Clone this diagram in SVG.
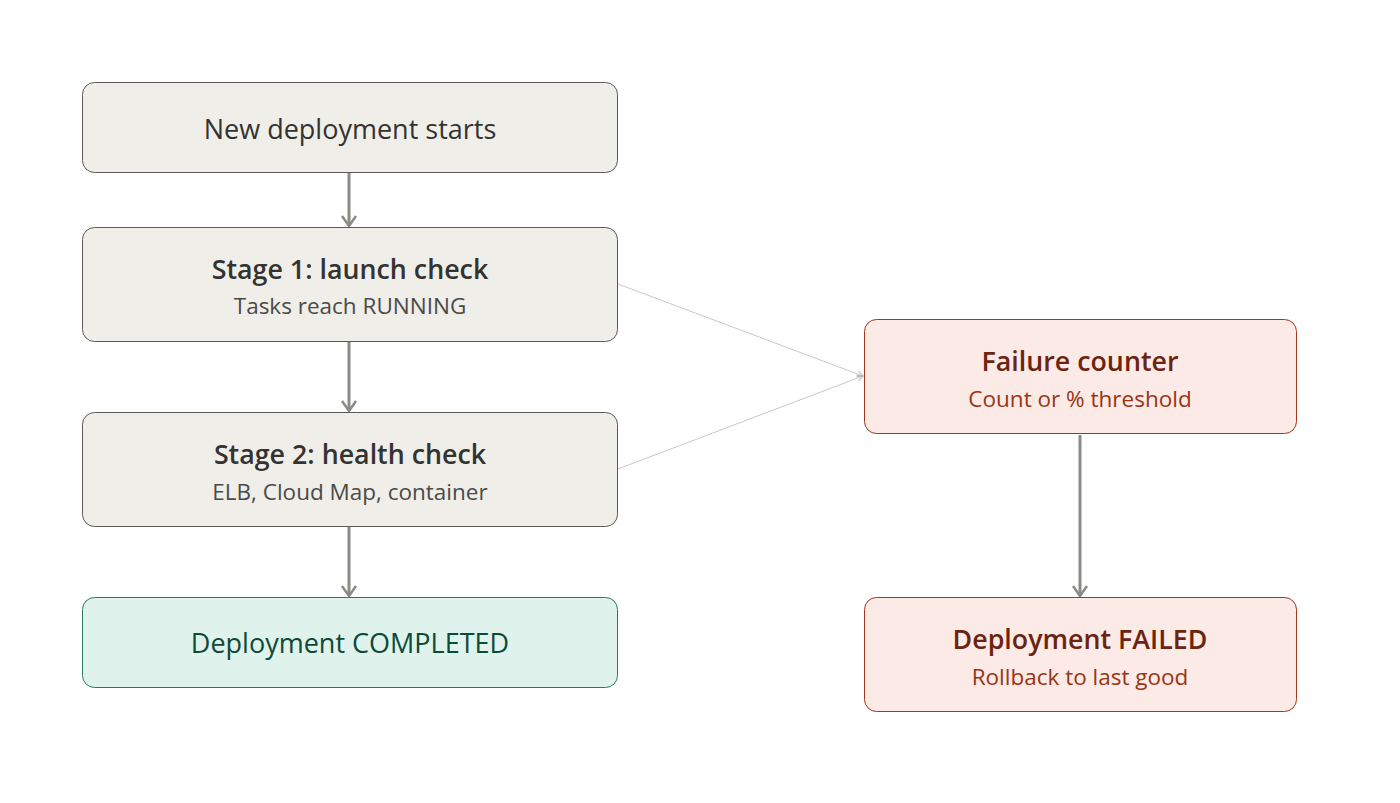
<svg xmlns="http://www.w3.org/2000/svg" width="1400" height="803" viewBox="0 0 1400 803">
<style>
.n{fill:#f0eee8;stroke:#5a5a58;stroke-width:1}
.g{fill:#e0f2ec;stroke:#2a7a60;stroke-width:1}
.r{fill:#fbeae5;stroke:#a3361c;stroke-width:1}
text{font-family:"Open Sans","Noto Sans","Liberation Sans",sans-serif;text-anchor:middle}
.t{font-size:27px;fill:#333331}
.b{font-size:26.8px;font-weight:600;fill:#333331}
.s{font-size:22.5px;fill:#4a4a48}
.gt{font-size:27px;fill:#0d4a38}
.rb{font-size:26.8px;font-weight:600;fill:#6b2410}
.rs{font-size:22.5px;fill:#9a3414}
.a{stroke:#8a8a86;stroke-width:3;fill:none}
.l{stroke:#c8c8c8;stroke-width:1;fill:none}
</style>
<defs>
<marker id="ah" viewBox="0 0 14 16" refX="12" refY="8" markerWidth="14" markerHeight="16" markerUnits="userSpaceOnUse" orient="auto">
<path d="M2,1 L12,8 L2,15" fill="none" stroke="#8a8a86" stroke-width="2.5"/>
</marker>
<marker id="ah2" viewBox="0 0 8 8" refX="7" refY="4" markerWidth="8" markerHeight="8" markerUnits="userSpaceOnUse" orient="auto">
<path d="M1,1 L7,4 L1,7" fill="none" stroke="#b8b8b8" stroke-width="1"/>
</marker>
</defs>
<rect width="1400" height="803" fill="#ffffff"/>
<g id="connectors">
<line class="a" x1="349" y1="173" x2="349" y2="226" marker-end="url(#ah)"/>
<line class="a" x1="349" y1="342" x2="349" y2="411" marker-end="url(#ah)"/>
<line class="a" x1="349" y1="527" x2="349" y2="596" marker-end="url(#ah)"/>
<line class="a" x1="1080" y1="435" x2="1080" y2="596" marker-end="url(#ah)"/>
<line class="l" x1="618" y1="284" x2="863" y2="376" marker-end="url(#ah2)"/>
<line class="l" x1="618" y1="469" x2="863" y2="376" marker-end="url(#ah2)"/>
</g>
<g id="start">
<rect class="n" x="82.5" y="82.5" width="535" height="90" rx="12"/>
<text class="t" x="350" y="139">New deployment starts</text>
</g>
<g id="stage1">
<rect class="n" x="82.5" y="227.5" width="535" height="114" rx="12"/>
<text class="b" x="350" y="279">Stage 1: launch check</text>
<text class="s" x="350" y="314">Tasks reach RUNNING</text>
</g>
<g id="stage2">
<rect class="n" x="82.5" y="412.5" width="535" height="114" rx="12"/>
<text class="b" x="350" y="464">Stage 2: health check</text>
<text class="s" x="350" y="500">ELB, Cloud Map, container</text>
</g>
<g id="completed">
<rect class="g" x="82.5" y="597.5" width="535" height="90" rx="12"/>
<text class="gt" x="350" y="653">Deployment COMPLETED</text>
</g>
<g id="counter">
<rect class="r" x="864.5" y="319.5" width="432" height="114" rx="12"/>
<text class="rb" x="1080" y="371">Failure counter</text>
<text class="rs" x="1080" y="407">Count or % threshold</text>
</g>
<g id="failed">
<rect class="r" x="864.5" y="597.5" width="432" height="114" rx="12"/>
<text class="rb" x="1080" y="649">Deployment FAILED</text>
<text class="rs" x="1080" y="685">Rollback to last good</text>
</g>
</svg>
